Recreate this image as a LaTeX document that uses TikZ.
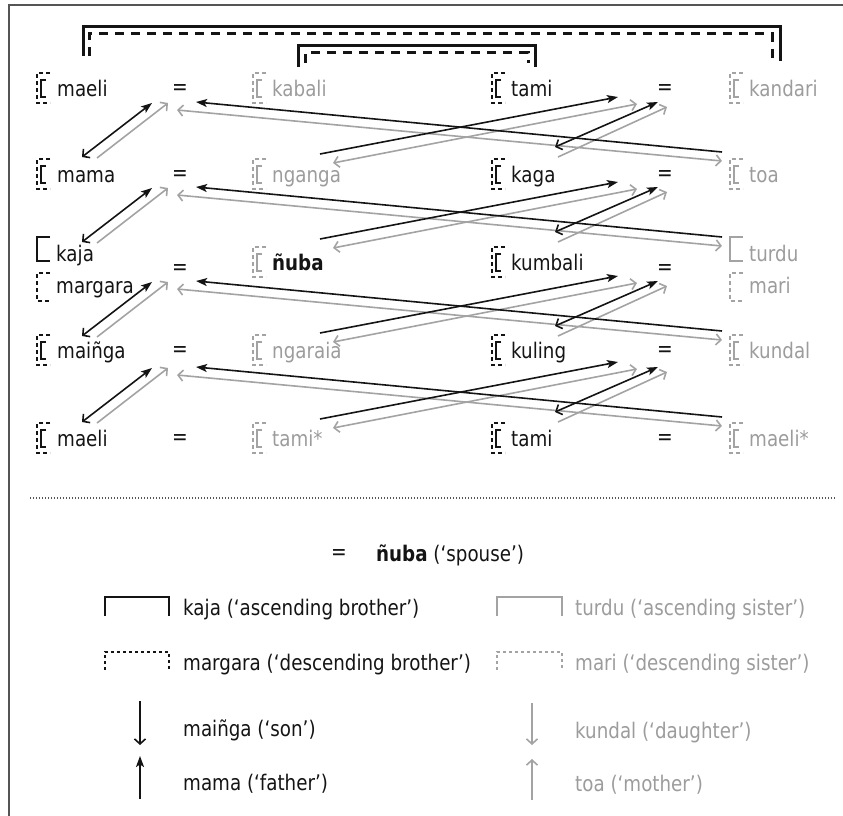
\documentclass[tikz,border=0pt]{standalone}
\usepackage{fontspec}
\setmainfont{DejaVu Sans}[FakeStretch=0.85]
\usetikzlibrary{arrows.meta}
\definecolor{gl}{HTML}{A3A3A3}
\definecolor{gt}{HTML}{9C9C9C}
\definecolor{bk}{HTML}{141414}
\definecolor{fr}{HTML}{555555}
\tikzset{
  Fh/.tip={Stealth[length=11pt,width=8pt,inset=2.5pt]},
  Oh/.tip={Straight Barb[length=5pt,width=11pt]},
  bboth/.pic={\draw[line width=1.6pt,dash pattern=on 4pt off 3pt] (13,-15) -- (0,-15) -- (0,15) -- (13,15);
              \draw[line width=1.7pt] (9,-8) -- (4,-8) -- (4,9) -- (9,9);},
  bsolid/.pic={\draw[line width=1.7pt] (13,-12) -- (0,-12) -- (0,12) -- (13,12);},
  bdash/.pic={\draw[line width=1.6pt,dash pattern=on 4pt off 3pt] (13,-14) -- (0,-14) -- (0,14) -- (13,14);}
}
\begin{document}
\begin{tikzpicture}[x=1pt,y=-1pt,
  txt/.style={anchor=base west,inner sep=0pt,font=\fontsize{21.5}{25}\selectfont,text=bk},
  gtxt/.style={txt,text=gt},
  eq/.style={anchor=base,inner sep=0pt,font=\fontsize{22}{25}\selectfont,text=bk},
  bl/.style={draw=bk,line width=1.6pt},
  gr/.style={draw=gl,line width=1.6pt},
  topbr/.style={draw=bk,line width=3pt},
  topdash/.style={draw=bk,line width=3pt,dash pattern=on 9pt off 7pt}]
\useasboundingbox (0,0) rectangle (843,816);
% frame
\draw[fr,line width=2pt] (9,816) -- (9,5) -- (843,5);
% top brackets
\draw[topbr] (83,56) -- (83,27) -- (780,27) -- (780,61);
\draw[topdash] (89,56) -- (89,34) -- (772,34) -- (772,63);
\draw[topbr] (298,67) -- (298,46) -- (535,46) -- (535,67);
\draw[topdash] (305,63) -- (305,53) -- (528,53) -- (528,63);
% row 1
\pic[color=bk] at (37,88) {bboth};  \node[txt] (maeliA) at (57,96) {maeli};
\node[eq] (eq1L) at (180,94) {=};
\pic[color=gl] at (253,88) {bboth}; \node[gtxt] (kabali) at (272,96) {kabali};
\pic[color=bk] at (492,88) {bboth}; \node[txt] (tamiA) at (511,96) {tami};
\node[eq] (eq1R) at (665,94) {=};
\pic[color=gl] at (730,88) {bboth}; \node[gtxt] (kandari) at (749,96) {kandari};
% row 2
\pic[color=bk] at (37,174) {bboth};  \node[txt] (mama) at (57,182) {mama};
\node[eq] (eq2L) at (180,180) {=};
\pic[color=gl] at (253,174) {bboth}; \node[gtxt] (nganga) at (272,182) {nganga};
\pic[color=bk] at (492,174) {bboth}; \node[txt] (kaga) at (511,182) {kaga};
\node[eq] (eq2R) at (665,180) {=};
\pic[color=gl] at (730,174) {bboth}; \node[gtxt] (toa) at (749,182) {toa};
% row 3
\pic[color=bk] at (37,249) {bsolid}; \node[txt] (kaja) at (56,261) {kaja};
\pic[color=bk] at (37,287) {bdash};  \node[txt] (margara) at (56,293) {margara};
\node[eq] (eq3L) at (180,274) {=};
\pic[color=gl] at (253,262) {bboth}; \node[txt] (nuba) at (272,270) {\textbf{ñuba}};
\pic[color=bk] at (492,262) {bboth}; \node[txt] (kumbali) at (511,270) {kumbali};
\node[eq] (eq3R) at (665,274) {=};
\pic[color=gl] at (730,249) {bsolid}; \node[gtxt] (turdu) at (749,261) {turdu};
\pic[color=gl] at (730,287) {bdash};  \node[gtxt] (mari) at (749,293) {mari};
% row 4
\pic[color=bk] at (37,350) {bboth};  \node[txt] (mainga) at (57,358) {maiñga};
\node[eq] (eq4L) at (180,356) {=};
\pic[color=gl] at (253,350) {bboth}; \node[gtxt] (ngaraia) at (272,358) {ngaraia};
\pic[color=bk] at (492,350) {bboth}; \node[txt] (kuling) at (511,358) {kuling};
\node[eq] (eq4R) at (665,356) {=};
\pic[color=gl] at (730,350) {bboth}; \node[gtxt] (kundal) at (749,358) {kundal};
% row 5
\pic[color=bk] at (37,438) {bboth};  \node[txt] (maeliB) at (57,446) {maeli};
\node[eq] (eq5L) at (180,444) {=};
\pic[color=gl] at (253,438) {bboth}; \node[gtxt] (tamiS) at (272,446) {tami*};
\pic[color=bk] at (492,438) {bboth}; \node[txt] (tamiB) at (511,446) {tami};
\node[eq] (eq5R) at (665,444) {=};
\pic[color=gl] at (730,438) {bboth}; \node[gtxt] (maeliS) at (749,446) {maeli*};
% connectors between generations
\foreach \o [count=\k] in {0,85,179,265} {
  \coordinate (A1\k) at (82,157+\o);  \coordinate (A2\k) at (152,103+\o);
  \coordinate (B1\k) at (97,158+\o);  \coordinate (B2\k) at (168,103+\o);
  \coordinate (C1\k) at (722,152+\o); \coordinate (C2\k) at (196,102+\o);
  \coordinate (D1\k) at (177,110+\o); \coordinate (D2\k) at (722,161+\o);
  \coordinate (E1\k) at (320,154+\o); \coordinate (E2\k) at (618,97+\o);
  \coordinate (F1\k) at (333,163+\o); \coordinate (F2\k) at (637,104+\o);
  \coordinate (G1\k) at (555,147+\o); \coordinate (G2\k) at (658,102+\o);
  \coordinate (H1\k) at (558,157+\o); \coordinate (H2\k) at (667,107+\o);
  \draw[gr,-Oh] (B1\k) -- (B2\k);
  \draw[gr,Oh-Oh] (D1\k) -- (D2\k);
  \draw[gr,Oh-Oh] (F1\k) -- (F2\k);
  \draw[gr,-Oh] (H1\k) -- (H2\k);
  \draw[bl,Oh-Fh] (A1\k) -- (A2\k);
  \draw[bl,-Fh] (C1\k) -- (C2\k);
  \draw[bl,-Fh] (E1\k) -- (E2\k);
  \draw[bl,Oh-Fh] (G1\k) -- (G2\k);
}
% separator
\coordinate (sepL) at (30,498); \coordinate (sepR) at (836,498);
\draw[draw=fr,line width=1.2pt,dash pattern=on 1.3pt off 1.7pt] (sepL) -- (sepR);
% legend
\node[eq] (leq) at (339,559) {=};
\node[txt] (lspouse) at (376,561) {\textbf{ñuba} (‘spouse’)};
\draw[bk,line width=1.7pt] (105,616) -- (105,597) -- (169,597) -- (169,616);
\node[txt] (lkaja) at (183,615) {kaja (‘ascending brother’)};
\draw[gl,line width=1.7pt] (497,616) -- (497,597) -- (562,597) -- (562,616);
\node[gtxt] (lturdu) at (575,615) {turdu (‘ascending sister’)};
\draw[bk,line width=1.5pt,dash pattern=on 3pt off 3pt] (105,670) -- (105,652) -- (169,652) -- (169,670);
\node[txt] (lmargara) at (183,670) {margara (‘descending brother’)};
\draw[gl,line width=1.5pt,dash pattern=on 3pt off 3pt] (497,670) -- (497,652) -- (562,652) -- (562,670);
\node[gtxt] (lmari) at (575,670) {mari (‘descending sister’)};
\coordinate (sonT) at (140,701); \coordinate (sonB) at (140,745);
\draw[bl,-Oh] (sonT) -- (sonB);
\node[txt] (lson) at (183,736) {maiñga (‘son’)};
\coordinate (dauT) at (532,703); \coordinate (dauB) at (532,745);
\draw[gr,-Oh] (dauT) -- (dauB);
\node[gtxt] (ldau) at (575,738) {kundal (‘daughter’)};
\coordinate (faB) at (140,799); \coordinate (faT) at (140,756);
\draw[bl,-Fh] (faB) -- (faT);
\node[txt] (lfa) at (183,790) {mama (‘father’)};
\coordinate (moB) at (532,800); \coordinate (moT) at (532,759);
\draw[gr,-Oh] (moB) -- (moT);
\node[gtxt] (lmo) at (575,791) {toa (‘mother’)};
\end{tikzpicture}
\end{document}
